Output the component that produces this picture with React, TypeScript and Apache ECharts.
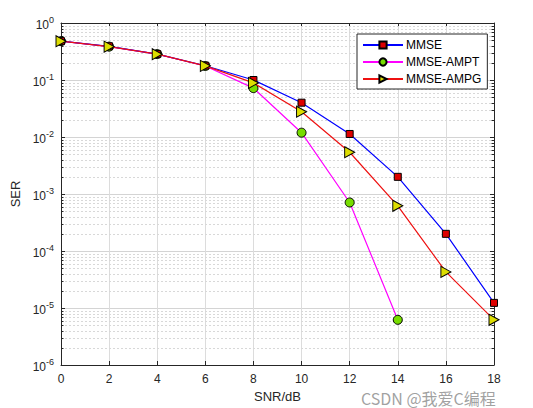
import React, { useEffect, useRef } from "react";
import * as echarts from "echarts";

const snr = [0, 2, 4, 6, 8, 10, 12, 14, 16, 18];
const serMMSE = [0.48, 0.39, 0.285, 0.178, 0.1, 0.04, 0.0113, 0.002, 0.0002, 0.0000123];
const serAMPT = [0.48, 0.385, 0.285, 0.176, 0.072, 0.0119, 0.00071, 0.0000062];
const serAMPG = [0.48, 0.385, 0.284, 0.177, 0.089, 0.0278, 0.0054, 0.00062, 0.000043, 0.0000062];
const seriesNames = ["MMSE", "MMSE-AMPT", "MMSE-AMPG"];
const minorMantissas = [2, 3, 4, 5, 6, 7, 8, 9];
const decadeExps = [-6, -5, -4, -3, -2, -1];

const AXIS = "#262626";
const FONT = "Liberation Sans";

export default function App() {
  const ref = useRef<HTMLDivElement>(null);
  useEffect(() => {
    const chart = echarts.init(ref.current!, null, { renderer: "svg" });
    const minorValues: number[] = [];
    decadeExps.forEach((e) => minorMantissas.forEach((m) => minorValues.push(m * Math.pow(10, e))));
    const pair = (arr: number[]) => arr.map((v, i) => [snr[i], v]);
    const tri = "path://M0,0 L10,5 L0,10 Z";
    const option: any = {
      animation: false,
      textStyle: { fontFamily: FONT },
      grid: { left: 61, right: 39, top: 23, bottom: 43, show: false },
      legend: {
        data: seriesNames,
        orient: "vertical",
        left: 357,
        top: 34,
        itemWidth: 40,
        itemHeight: 9,
        itemGap: 5,
        padding: [5, 6, 4, 5],
        backgroundColor: "#fff",
        borderColor: AXIS,
        borderWidth: 1,
        textStyle: { fontSize: 12, color: "#000", fontFamily: FONT, padding: [0, 0, 0, -2], lineHeight: 12 },
      },
      xAxis: [
        {
          type: "value",
          min: 0,
          max: 18,
          interval: 2,
          name: "SNR/dB",
          nameLocation: "middle",
          nameGap: 24,
          nameTextStyle: { fontSize: 13, color: AXIS, fontFamily: FONT },
          axisLine: { show: true, onZero: false, lineStyle: { color: AXIS, width: 1 } },
          axisTick: { show: true, inside: true, length: 4, lineStyle: { color: AXIS } },
          axisLabel: { fontSize: 12, color: AXIS, margin: 8, fontFamily: FONT, lineHeight: 12, showMaxLabel: true, showMinLabel: true },
          splitLine: { show: true, lineStyle: { color: "#dcdcdc", width: 1 } },
        },
        {
          type: "value",
          position: "top",
          min: 0,
          max: 18,
          interval: 2,
          axisLine: { show: true, onZero: false, lineStyle: { color: AXIS, width: 1 } },
          axisTick: { show: true, inside: true, length: 4, lineStyle: { color: AXIS } },
          axisLabel: { show: false },
          splitLine: { show: false },
        },
      ],
      yAxis: [
        {
          type: "log",
          logBase: 10,
          min: 1e-6,
          max: 1,
          name: "SER",
          nameLocation: "middle",
          nameGap: 35,
          nameTextStyle: { fontSize: 13, color: AXIS, fontFamily: FONT },
          axisLine: { show: true, onZero: false, lineStyle: { color: AXIS, width: 1 } },
          axisTick: { show: true, inside: true, length: 4, lineStyle: { color: AXIS } },
          axisLabel: {
            color: AXIS,
            margin: 7,
            fontFamily: FONT,
            formatter: (v: number) => `{b|10}{s|${Math.round(Math.log10(v))}}`,
            rich: {
              b: { fontSize: 12, color: AXIS, fontFamily: FONT, lineHeight: 16, verticalAlign: "bottom" },
              s: { fontSize: 9, color: AXIS, fontFamily: FONT, lineHeight: 16, verticalAlign: "top", padding: [0, 0, 6, 0] },
            },
          },
          splitLine: { show: true, lineStyle: { color: "#d4d4d4", width: 1 } },
        },
        {
          type: "log",
          logBase: 10,
          min: 1e-6,
          max: 1,
          position: "right",
          axisLine: { show: true, onZero: false, lineStyle: { color: AXIS, width: 1 } },
          axisTick: { show: true, inside: true, length: 4, lineStyle: { color: AXIS } },
          axisLabel: { show: false },
          splitLine: { show: false },
        },
      ],
      series: [
        {
          type: "custom",
          silent: true,
          z: 1,
          xAxisIndex: 0,
          yAxisIndex: 0,
          data: minorValues.map((v) => [0, v]),
          renderItem: (params: any, api: any) => {
            const cs = params.coordSys;
            const y = Math.round(api.coord([0, api.value(1)])[1]) + 0.5;
            return {
              type: "group",
              children: [
                {
                  type: "line",
                  shape: { x1: cs.x, y1: y, x2: cs.x + cs.width, y2: y },
                  style: { stroke: "#d8d8d8", lineWidth: 1, lineDash: [2, 2] },
                },
                {
                  type: "line",
                  shape: { x1: cs.x, y1: y, x2: cs.x + 2.5, y2: y },
                  style: { stroke: AXIS, lineWidth: 1 },
                },
                {
                  type: "line",
                  shape: { x1: cs.x + cs.width - 2.5, y1: y, x2: cs.x + cs.width, y2: y },
                  style: { stroke: AXIS, lineWidth: 1 },
                },
              ],
            };
          },
        },
        {
          name: "MMSE",
          type: "line",
          z: 5,
          data: pair(serMMSE),
          lineStyle: { color: "#0000ff", width: 1.2 },
          symbol: "rect",
          symbolSize: 7,
          itemStyle: { color: "#dd0000", borderColor: "#000", borderWidth: 1 },
        },
        {
          name: "MMSE-AMPT",
          type: "line",
          z: 4,
          data: pair(serAMPT),
          lineStyle: { color: "#ff00ff", width: 1.2 },
          symbol: "circle",
          symbolSize: 9,
          itemStyle: { color: "#77dd00", borderColor: "#000", borderWidth: 1 },
        },
        {
          name: "MMSE-AMPG",
          type: "line",
          z: 6,
          data: pair(serAMPG),
          lineStyle: { color: "#ee1111", width: 1.2 },
          symbol: tri,
          symbolSize: [10, 11],
          itemStyle: { color: "#dddd00", borderColor: "#000", borderWidth: 1 },
        },
      ],
      graphic: [
        {
          type: "text",
          left: 361,
          top: 389,
          z: 100,
          style: {
            text: "CSDN @我爱C编程",
            fill: "rgba(130,130,130,0.75)",
            font: "16px 'Noto Sans CJK SC', 'Liberation Sans'",
            lineHeight: 17,
          },
        },
      ],
    };
    chart.setOption(option);
    return () => chart.dispose();
  }, []);
  return (
    <div
      ref={ref}
      style={{ position: "fixed", left: 0, top: 0, width: 533, height: 408, background: "#fff" }}
    />
  );
}
